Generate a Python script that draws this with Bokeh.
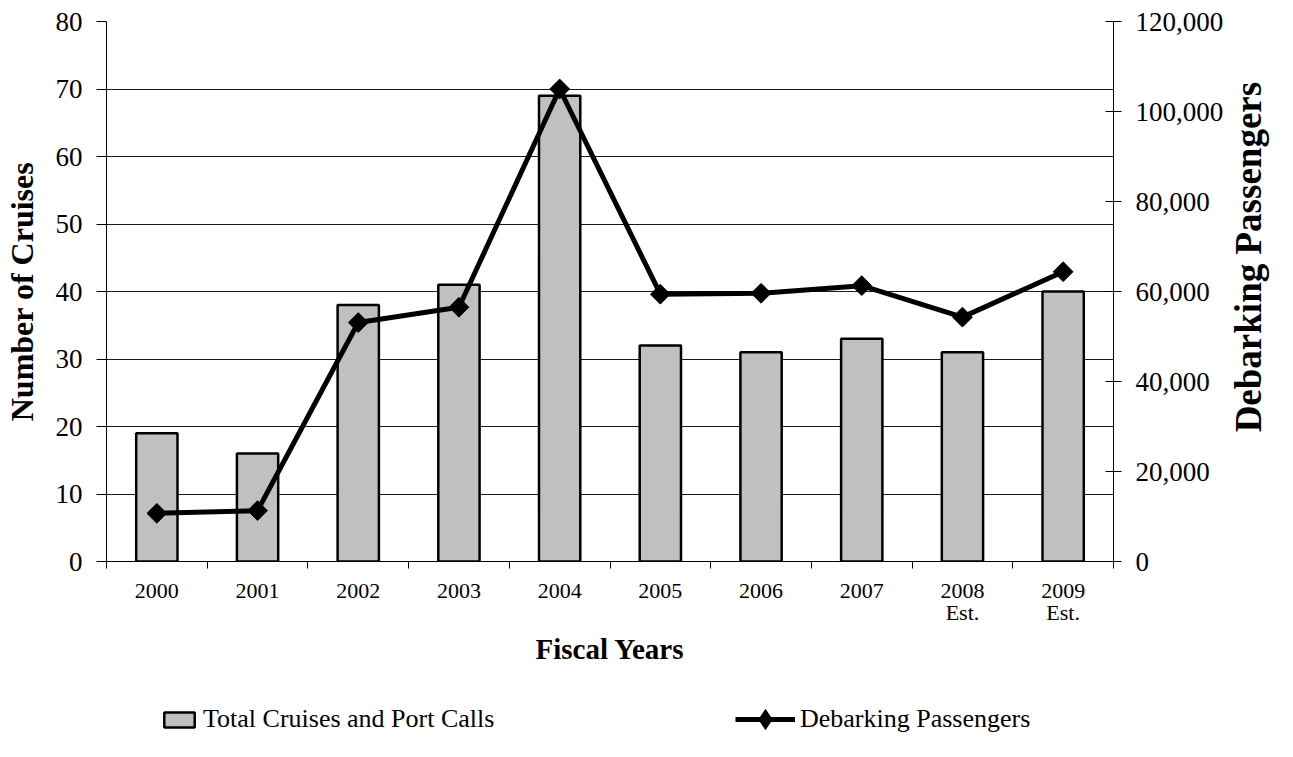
import math
from bokeh.plotting import figure
from bokeh.layouts import column
from bokeh.models import (Range1d, LinearAxis, FixedTicker, NumeralTickFormatter,
                          Legend, LegendItem, ColumnDataSource)
from bokeh.embed import file_html
from bokeh.resources import INLINE

years = ["2000", "2001", "2002", "2003", "2004", "2005", "2006", "2007", "2008", "2009"]
year_labels = ["2000", "2001", "2002", "2003", "2004", "2005", "2006", "2007", "2008\nEst.", "2009\nEst."]
cruises = [19, 16, 38, 41, 69, 32, 31, 33, 31, 40]
passengers = [10700, 11300, 53100, 56500, 105000, 59400, 59600, 61300, 54300, 64400]

left_ticks = list(range(0, 81, 10))
right_ticks = list(range(0, 120001, 20000))

FONT = "Liberation Serif"
RIGHT_TITLE_START = 28700   # where the rotated right-hand title begins (in passenger units)

BAR_STYLE = dict(fill_color="#c0c0c0", line_color="black", line_width=2.5)
LINE_STYLE = dict(line_color="black", line_width=5)
MARK_STYLE = dict(marker="square", angle=math.pi / 4, size=14, fill_color="black", line_color="black")

xc = [i + 0.5 for i in range(len(years))]
src = ColumnDataSource(dict(x=xc, cruises=cruises, pax=passengers))

p = figure(width=1293, height=680, output_backend="svg", toolbar_location=None,
           x_range=Range1d(0, len(years)), y_range=Range1d(0, 80),
           x_axis_location=None, y_axis_location="left",
           min_border_left=106, min_border_right=180, min_border_top=21, min_border_bottom=119)
p.outline_line_color = None
p.background_fill_color = "white"
p.border_fill_color = "white"
p.xgrid.visible = False
p.ygrid.ticker = FixedTicker(ticks=left_ticks)
p.ygrid.grid_line_color = "#1a1a1a"
p.ygrid.grid_line_width = 1

p.extra_y_ranges = {"pax": Range1d(0, 120000)}

# left axis
ya = p.yaxis[0]
ya.ticker = FixedTicker(ticks=left_ticks)
ya.major_tick_out = 10
ya.major_tick_in = 0
ya.minor_tick_line_color = None
ya.axis_line_color = "black"
ya.major_tick_line_color = "black"
ya.major_label_text_font = FONT
ya.major_label_text_font_size = "27px"
ya.major_label_text_color = "black"
ya.major_label_standoff = 14
ya.axis_label = "Number of Cruises"
ya.axis_label_text_font = FONT
ya.axis_label_text_font_style = "bold"
ya.axis_label_text_font_size = "32px"
ya.axis_label_text_color = "black"
ya.axis_label_standoff = 13

# right axis
ra = LinearAxis(y_range_name="pax", ticker=FixedTicker(ticks=right_ticks),
                formatter=NumeralTickFormatter(format="0,0"))
ra.major_tick_out = 8
ra.major_tick_in = 8
ra.minor_tick_line_color = None
ra.axis_line_color = "black"
ra.major_label_text_font = FONT
ra.major_label_text_font_size = "27px"
ra.major_label_text_color = "black"
ra.major_label_standoff = 14
p.add_layout(ra, "right")

# right-hand title (reads bottom to top)
rt = LinearAxis(y_range_name="pax", ticker=FixedTicker(ticks=[RIGHT_TITLE_START]))
rt.major_label_overrides = {RIGHT_TITLE_START: "Debarking Passengers"}
rt.major_label_orientation = math.pi / 2
rt.axis_line_color = None
rt.major_tick_line_color = None
rt.minor_tick_line_color = None
rt.major_tick_out = 0
rt.major_tick_in = 0
rt.major_label_text_font = FONT
rt.major_label_text_font_style = "bold"
rt.major_label_text_font_size = "37px"
rt.major_label_text_color = "black"
rt.major_label_standoff = 22
try:
    rt.major_label_text_line_height = 1.0
except AttributeError:
    pass
p.add_layout(rt, "right")

# bottom axis: boundary ticks
xa1 = LinearAxis(ticker=FixedTicker(ticks=list(range(0, len(years) + 1))))
xa1.major_tick_out = 7
xa1.major_tick_in = 0
xa1.minor_tick_line_color = None
xa1.axis_line_color = "black"
xa1.major_label_text_font_size = "0px"
xa1.major_label_standoff = 0
xa1.major_label_overrides = {i: "" for i in range(0, len(years) + 1)}
p.add_layout(xa1, "below")

# bottom axis: category labels
xa2 = LinearAxis(ticker=FixedTicker(ticks=xc))
xa2.major_tick_out = 0
xa2.major_tick_in = 0
xa2.major_tick_line_color = None
xa2.minor_tick_line_color = None
xa2.axis_line_color = None
xa2.major_label_overrides = {x: lab for x, lab in zip(xc, year_labels)}
xa2.major_label_text_font = FONT
xa2.major_label_text_font_size = "22px"
xa2.major_label_text_color = "black"
xa2.major_label_standoff = 9
try:
    xa2.major_label_text_line_height = 0.9
except AttributeError:
    pass
xa2.axis_label = "Fiscal Years"
xa2.axis_label_text_font = FONT
xa2.axis_label_text_font_style = "bold"
xa2.axis_label_text_font_size = "29px"
xa2.axis_label_text_color = "black"
xa2.axis_label_standoff = 5
p.add_layout(xa2, "below")

p.vbar(x="x", top="cruises", width=0.41, source=src, **BAR_STYLE)
p.line(x="x", y="pax", source=src, y_range_name="pax", **LINE_STYLE)
p.scatter(x="x", y="pax", source=src, y_range_name="pax", **MARK_STYLE)

# legend strip: sample renderers are hidden, only their legend entries show
lg = figure(width=1293, height=77, output_backend="svg", toolbar_location=None,
            x_range=Range1d(0, len(years)), y_range=Range1d(0, 80),
            x_axis_location=None, y_axis_location=None,
            min_border_left=106, min_border_right=180, min_border_top=0, min_border_bottom=0)
lg.outline_line_color = None
lg.xgrid.visible = False
lg.ygrid.visible = False
lg.background_fill_color = "white"
lg.border_fill_color = "white"
lb = lg.vbar(x="x", top="cruises", width=0.41, source=src, visible=False, **BAR_STYLE)
ll = lg.line(x="x", y="pax", source=src, visible=False, **LINE_STYLE)
lm = lg.scatter(x="x", y="pax", source=src, visible=False, marker="diamond", size=14,
                fill_color="black", line_color="black")

common = dict(label_text_font=FONT, label_text_font_size="26px", label_text_color="black",
              padding=0, margin=0, border_line_color=None, background_fill_alpha=0,
              inactive_fill_alpha=0, label_standoff=5)
leg1 = Legend(items=[LegendItem(label="Total Cruises and Port Calls", renderers=[lb])],
              location=(54, 23), glyph_width=38, glyph_height=19, **common)
leg2 = Legend(items=[LegendItem(label="Debarking Passengers", renderers=[ll, lm])],
              location=(629, 13), glyph_width=60, glyph_height=50, **common)
lg.add_layout(leg1, "center")
lg.add_layout(leg2, "center")

layout = column(p, lg, spacing=0)
open("out.html", "w").write(file_html(layout, INLINE))
